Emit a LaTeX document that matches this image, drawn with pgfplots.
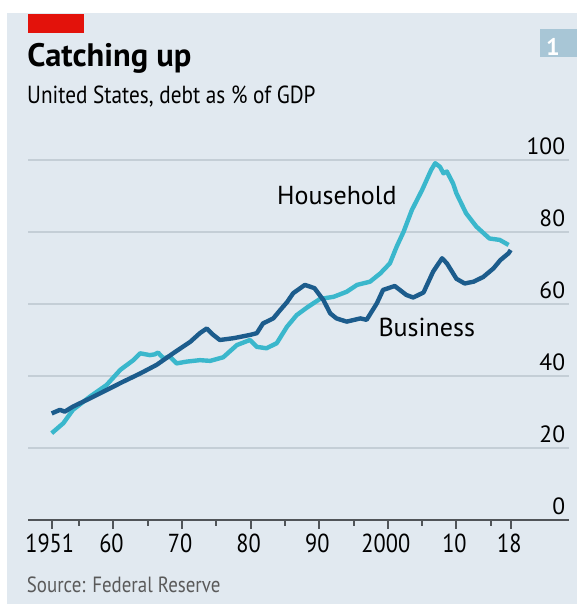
\documentclass[border=0pt]{standalone}
\usepackage{fontspec}
\setmainfont{PT Sans}
\newfontfamily\condfont[FakeStretch=0.86]{PT Sans}
\usepackage{pgfplots}
\pgfplotsset{compat=1.18}
\definecolor{bg}{RGB}{225,233,240}
\definecolor{gridc}{RGB}{196,206,214}
\definecolor{basec}{RGB}{80,84,88}
\definecolor{hhc}{RGB}{58,183,204}
\definecolor{bizc}{RGB}{28,92,140}
\definecolor{econred}{RGB}{227,18,11}
\definecolor{boxblue}{RGB}{168,198,214}
\definecolor{srcgrey}{RGB}{90,90,90}
\begin{document}
\begin{tikzpicture}[x=1bp,y=1bp]
\fill[white] (0,0) rectangle (577,604);
\fill[bg] (7,0) rectangle (577,590.5);
\fill[econred] (28.3,570.5) rectangle (84,590);
\fill[boxblue] (540,547.3) rectangle (577,574.7);
\node[text=white, font=\bfseries\fontsize{24bp}{24bp}\selectfont, inner sep=0pt] at (553,557) {1};
\node[anchor=base west, inner sep=0pt, font=\bfseries\fontsize{32.5bp}{33bp}\selectfont] at (27.3,537.3) {Catching up};
\node[anchor=base west, inner sep=0pt, font=\condfont\fontsize{24.7bp}{26bp}\selectfont] at (27,500.7) {United States, debt as \% of GDP};
\node[anchor=base west, inner sep=0pt, text=srcgrey, font=\condfont\fontsize{22bp}{24bp}\selectfont] at (26.7,11.7) {Source: Federal Reserve};
\begin{axis}[
  at={(28.3bp,84bp)}, anchor=south west, scale only axis,
  width=540.4bp, height=360bp,
  xmin=1947.59, xmax=2026.36, ymin=0, ymax=100,
  /pgf/number format/assume math mode=true,
  axis line style={draw=none},
  ytick={20,40,60,80,100},
  extra y ticks={0}, extra y tick labels={0},
  extra y tick style={grid style={basec, line width=2.4bp}},
  ymajorgrids, grid style={gridc, line width=1.5bp},
  ytick style={draw=none},
  yticklabel pos=right,
  yticklabel style={anchor=south east, inner sep=0pt, xshift=-12.4bp, yshift=5.5bp, font=\fontsize{23.5bp}{24bp}\selectfont},
  xtick={1951,1960,1970,1980,1990,2000,2010,2018},
  xticklabels={1951,60,70,80,90,2000,10,18},
  minor xtick={1955,1965,1975,1985,1995,2005,2015},
  xtick pos=bottom, tick align=outside,
  major tick length=9bp, minor tick length=6bp,
  xtick style={basec, line width=2bp},
  xticklabel style={anchor=north, inner sep=0pt, xshift=-2bp, yshift=-5bp, font=\condfont\fontsize{26bp}{26bp}\selectfont},
  clip=false,
]
\addplot[hhc, line width=4.4bp, line join=round, mark=none] coordinates {
(1951.0,24.1) (1952.7,26.9) (1954.1,30.6) (1956.6,34.3) (1959.0,37.5)
(1961.0,41.7) (1962.9,44.4) (1963.9,46.3) (1965.3,45.8) (1966.0,46.0)
(1966.5,46.5) (1967.3,44.9) (1968.2,45.4) (1969.2,43.5) (1970.7,44.0)
(1972.6,44.4) (1974.1,44.2) (1976.0,45.2) (1978.0,48.6) (1979.9,50.0)
(1980.9,48.1) (1982.3,47.7) (1983.8,49.1) (1985.3,53.7) (1986.7,56.9)
(1988.2,59.0) (1990.1,61.4) (1992.1,62.0) (1994.0,63.4) (1995.5,65.3)
(1997.4,66.2) (1998.9,68.5) (2000.3,71.3) (2001.3,76.0) (2002.3,80.1)
(2003.5,86.1) (2005.0,91.7) (2006.3,97.2) (2006.9,99.1) (2007.6,98.1)
(2008.1,96.3) (2008.6,96.8) (2009.5,93.5) (2010.0,90.7) (2011.4,85.2)
(2012.9,81.5) (2014.8,78.2) (2016.3,77.8) (2017.6,76.4)
};
\addplot[bizc, line width=4.4bp, line join=round, mark=none] coordinates {
(1951.0,29.6) (1952.2,30.6) (1952.9,30.1) (1954.1,31.5) (1956.6,33.8)
(1959.0,36.1) (1961.4,38.4) (1963.9,40.7) (1966.3,43.1) (1968.7,46.3)
(1971.2,49.5) (1972.6,51.9) (1973.6,53.2) (1974.5,51.5) (1975.5,50.0)
(1977.5,50.5) (1979.9,51.4) (1980.9,51.9) (1981.8,54.6) (1983.3,56.0)
(1984.3,58.3) (1985.3,60.5) (1986.2,63.0) (1987.9,65.3) (1989.3,64.4)
(1990.6,61.1) (1991.6,57.4) (1992.5,56.0) (1994.0,55.1) (1996.0,56.0)
(1996.9,55.6) (1998.4,60.2) (1999.3,63.9) (2001.0,65.0) (2002.7,62.5)
(2003.7,61.8) (2005.2,63.2) (2006.6,69.0) (2007.9,72.7) (2008.6,71.3)
(2010.0,67.0) (2011.2,65.7) (2012.5,66.2) (2013.9,67.5) (2015.4,69.9)
(2016.4,72.2) (2017.6,74.1) (2017.9,75.0)
};
\node[anchor=base west, inner sep=0pt, font=\fontsize{26bp}{26bp}\selectfont] at (axis cs:1983.84,87.5) {Household};
\node[anchor=base west, inner sep=0pt, font=\fontsize{26bp}{26bp}\selectfont] at (axis cs:1998.61,50.9) {Business};
\end{axis}
\pgfresetboundingbox
\useasboundingbox (0,0) rectangle (577,604);
\end{tikzpicture}
\end{document}
